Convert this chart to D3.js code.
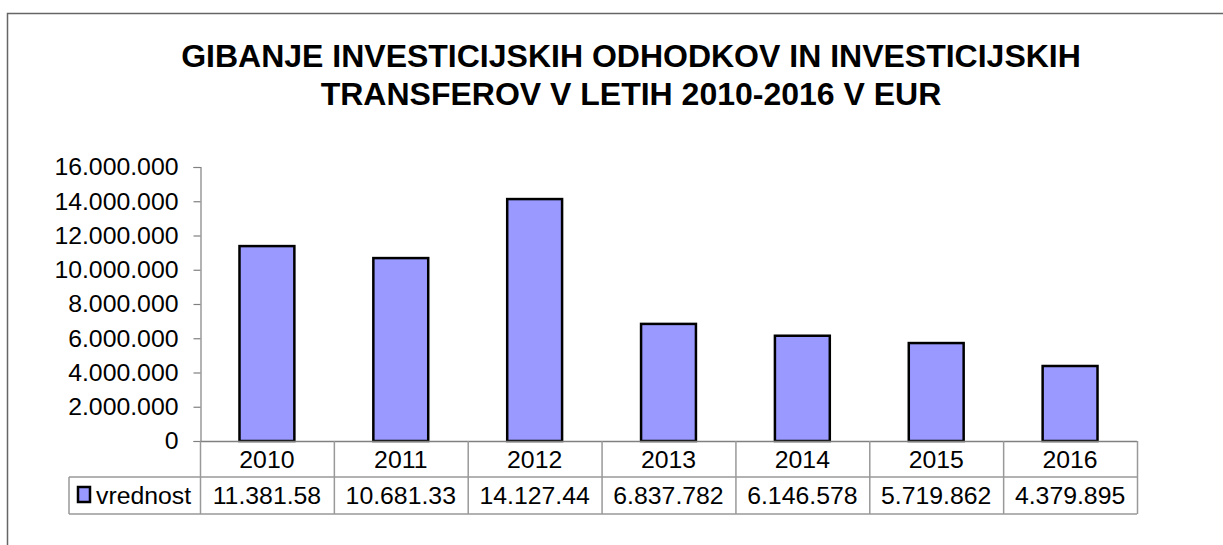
<!DOCTYPE html>
<html>
<head>
<meta charset="utf-8">
<script src="https://cdn.jsdelivr.net/npm/d3@7"></script>
<style>
  body { margin: 0; background: #fff; }
  text { font-family: "Liberation Sans", Arial, sans-serif; fill: #000; }
</style>
</head>
<body>
<div id="viz"></div>
<script>
// data
const years = ["2010", "2011", "2012", "2013", "2014", "2015", "2016"];
const values = [11381580, 10681330, 14127440, 6837782, 6146578, 5719862, 4379895];
const yTicks = [0, 2000000, 4000000, 6000000, 8000000, 10000000, 12000000, 14000000, 16000000];
const seriesName = "vrednost";
const titleLines = [
  "GIBANJE INVESTICIJSKIH ODHODKOV IN INVESTICIJSKIH",
  "TRANSFEROV V LETIH 2010-2016 V EUR"
];

const W = 1223, H = 545;
const svg = d3.select("#viz").append("svg")
  .attr("width", W)
  .attr("height", H);

// outer chart frame (only left and top visible)
svg.append("path")
  .attr("d", `M7.5,${H} V13.5 H${W}`)
  .attr("fill", "none")
  .attr("stroke", "#666")
  .attr("stroke-width", 1.5);

// title
svg.append("g").selectAll("text")
  .data(titleLines)
  .join("text")
  .attr("x", 631)
  .attr("y", (d, i) => 67 + i * 38)
  .attr("text-anchor", "middle")
  .attr("font-size", 32)
  .attr("font-weight", "bold")
  .text(d => d);

// scales
const plotLeft = 200, plotRight = 1137, plotTop = 167, plotBottom = 441;
const x = d3.scaleBand().domain(years).range([plotLeft, plotRight]).padding(0);
const y = d3.scaleLinear().domain([0, 16000000]).range([plotBottom, plotTop]);

const fmt = v => d3.format(",")(v).replace(/,/g, ".");

// y axis
const yAxis = d3.axisLeft(y)
  .tickValues(yTicks)
  .tickSize(7)
  .tickPadding(15)
  .tickFormat(fmt);

const ya = svg.append("g")
  .attr("transform", `translate(${plotLeft + 0.5},0)`)
  .call(yAxis);
ya.select(".domain").attr("stroke", "#808080").attr("stroke-width", 1.2);
ya.selectAll(".tick line").attr("stroke", "#808080").attr("stroke-width", 1.2);
ya.selectAll(".tick text")
  .attr("font-size", 24.8)
  .attr("font-family", "'Liberation Sans', Arial, sans-serif")
  .attr("fill", "#000");

// bars
const barW = x.bandwidth() * 0.41;
svg.append("g").selectAll("rect")
  .data(values)
  .join("rect")
  .attr("x", (d, i) => x(years[i]) + (x.bandwidth() - barW) / 2)
  .attr("y", d => y(d))
  .attr("width", barW)
  .attr("height", d => y(0) - y(d))
  .attr("fill", "#9999FF")
  .attr("stroke", "#000")
  .attr("stroke-width", 2.5);

// data table under the axis
const rowTop = plotBottom, rowMid = 477, rowBot = 514, legendLeft = 69;
const grid = svg.append("g")
  .attr("stroke", "#999")
  .attr("stroke-width", 1.5)
  .attr("fill", "none");

// horizontal lines
grid.append("line").attr("x1", plotLeft).attr("x2", plotRight).attr("y1", rowTop + 0.5).attr("y2", rowTop + 0.5).attr("stroke", "#808080");
grid.append("line").attr("x1", legendLeft).attr("x2", plotRight).attr("y1", rowMid).attr("y2", rowMid);
grid.append("line").attr("x1", legendLeft).attr("x2", plotRight).attr("y1", rowBot).attr("y2", rowBot);
// vertical lines
grid.selectAll("line.col")
  .data(years.map(d => x(d)).concat([plotRight]))
  .join("line")
  .attr("class", "col")
  .attr("x1", d => d + 0.5).attr("x2", d => d + 0.5)
  .attr("y1", rowTop).attr("y2", rowBot);
grid.append("line").attr("x1", legendLeft).attr("x2", legendLeft).attr("y1", rowMid).attr("y2", rowBot);

// year headers
svg.append("g").selectAll("text")
  .data(years)
  .join("text")
  .attr("x", d => x(d) + x.bandwidth() / 2)
  .attr("y", 468)
  .attr("text-anchor", "middle")
  .attr("font-size", 24.8)
  .text(d => d);

// values (clipped to the cell width as in the original)
svg.append("g").selectAll("text")
  .data(values)
  .join("text")
  .attr("x", (d, i) => x(years[i]) + x.bandwidth() / 2)
  .attr("y", 504)
  .attr("text-anchor", "middle")
  .attr("font-size", 24.8)
  .text(d => fmt(d).slice(0, 9));

// legend key
svg.append("rect")
  .attr("x", 78).attr("y", 487)
  .attr("width", 12).attr("height", 15)
  .attr("fill", "#9999FF")
  .attr("stroke", "#000")
  .attr("stroke-width", 2.5);
svg.append("text")
  .attr("x", 96).attr("y", 504)
  .attr("font-size", 24.8)
  .text(seriesName);
</script>
</body>
</html>
